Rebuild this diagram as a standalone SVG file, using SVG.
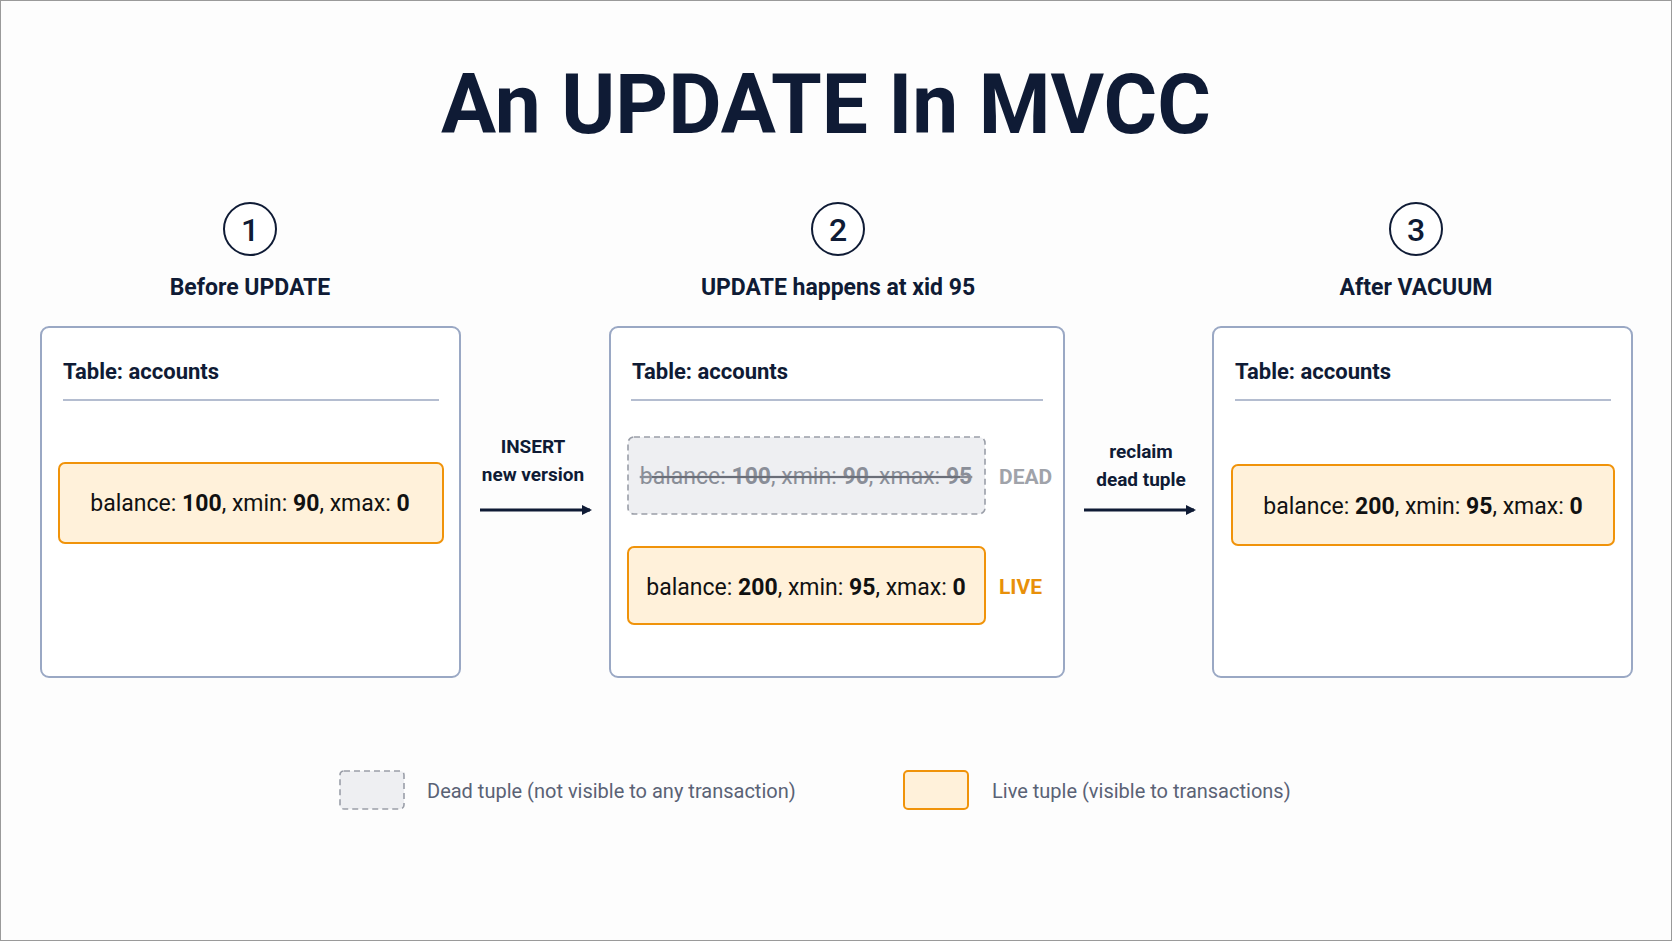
<svg xmlns="http://www.w3.org/2000/svg" width="1672" height="941" viewBox="0 0 1672 941">
<style>
text{font-family:Roboto,"Liberation Sans",sans-serif;fill:#0f1b35}
.title{font-size:84px;font-weight:700}
.num{font-size:32px;font-weight:500}
.sub{font-size:23px;font-weight:700}
.hdr{font-size:22px;font-weight:700}
.panel{fill:#fff;stroke:#9aa8c4;stroke-width:2}
.div{stroke:#b4bdd0;stroke-width:2}
.live{fill:#fff1da;stroke:#f0930a;stroke-width:2}
.dead{fill:#eeeff2;stroke:#9a9ea8;stroke-width:1.6;stroke-dasharray:6 4}
.tup{font-size:23px;fill:#111}
.tup tspan.b{font-weight:700}
.dt{font-size:23px;fill:#8a8e98}
.lab{font-size:19px;font-weight:700}
.leg{font-size:20px;fill:#5a6275}
.conn{stroke:#0f1b35;stroke-width:3;fill:none}
</style>
<defs><marker id="ah" markerWidth="10" markerHeight="10" refX="8" refY="5" orient="auto" markerUnits="userSpaceOnUse"><path d="M0,0 L10,5 L0,10 z" fill="#0f1b35"/></marker></defs>
<rect x="0" y="0" width="1672" height="941" fill="#fdfdfd" stroke="#9a9a9a" stroke-width="2"/>
<text class="title" x="826" y="133" text-anchor="middle" textLength="770" lengthAdjust="spacingAndGlyphs">An UPDATE In MVCC</text>
<g id="step1">
<circle cx="250" cy="229" r="26" fill="#fff" stroke="#0f1b35" stroke-width="2"/>
<text class="num" x="250" y="241" text-anchor="middle">1</text>
<text class="sub" x="250" y="295" text-anchor="middle">Before UPDATE</text>
<rect class="panel" x="41" y="327" width="419" height="350" rx="8"/>
<text class="hdr" x="63" y="379">Table: accounts</text>
<line class="div" x1="63" y1="400" x2="439" y2="400"/>
<rect class="live" x="59" y="463" width="384" height="80" rx="6"/>
<text class="tup" x="250" y="511" text-anchor="middle">balance: <tspan class="b">100</tspan>,  xmin: <tspan class="b">90</tspan>,  xmax: <tspan class="b">0</tspan></text>
</g>
<g id="step2">
<circle cx="838" cy="229" r="26" fill="#fff" stroke="#0f1b35" stroke-width="2"/>
<text class="num" x="838" y="241" text-anchor="middle">2</text>
<text class="sub" x="838" y="295" text-anchor="middle">UPDATE happens at xid 95</text>
<rect class="panel" x="610" y="327" width="454" height="350" rx="8"/>
<text class="hdr" x="632" y="379">Table: accounts</text>
<line class="div" x1="631" y1="400" x2="1043" y2="400"/>
<rect class="dead" x="628" y="437" width="357" height="77" rx="6"/>
<text class="dt" x="806" y="484" text-anchor="middle" text-decoration="line-through">balance: <tspan font-weight="700">100</tspan>, xmin: <tspan font-weight="700">90</tspan>, xmax: <tspan font-weight="700">95</tspan></text>
<line x1="652" y1="477" x2="960" y2="477" stroke="#6a6e78" stroke-width="2"/>
<text x="999" y="484" font-size="21" font-weight="700" style="fill:#a0a3aa">DEAD</text>
<rect class="live" x="628" y="547" width="357" height="77" rx="6"/>
<text class="tup" x="806" y="595" text-anchor="middle">balance: <tspan class="b">200</tspan>, xmin: <tspan class="b">95</tspan>, xmax: <tspan class="b">0</tspan></text>
<text x="999" y="594" font-size="21" font-weight="700" style="fill:#e8900a">LIVE</text>
</g>
<g id="step3">
<circle cx="1416" cy="229" r="26" fill="#fff" stroke="#0f1b35" stroke-width="2"/>
<text class="num" x="1416" y="241" text-anchor="middle">3</text>
<text class="sub" x="1416" y="295" text-anchor="middle">After VACUUM</text>
<rect class="panel" x="1213" y="327" width="419" height="350" rx="8"/>
<text class="hdr" x="1235" y="379">Table: accounts</text>
<line class="div" x1="1235" y1="400" x2="1611" y2="400"/>
<rect class="live" x="1232" y="465" width="382" height="80" rx="6"/>
<text class="tup" x="1423" y="514" text-anchor="middle">balance: <tspan class="b">200</tspan>,  xmin: <tspan class="b">95</tspan>,  xmax: <tspan class="b">0</tspan></text>
</g>
<g id="connectors">
<line class="conn" x1="480" y1="510" x2="590" y2="510" marker-end="url(#ah)"/>
<text class="lab" x="533" y="453" text-anchor="middle">INSERT</text>
<text class="lab" x="533" y="481" text-anchor="middle">new version</text>
<line class="conn" x1="1084" y1="510" x2="1194" y2="510" marker-end="url(#ah)"/>
<text class="lab" x="1141" y="458" text-anchor="middle">reclaim</text>
<text class="lab" x="1141" y="486" text-anchor="middle">dead tuple</text>
</g>
<g id="legend">
<rect class="dead" x="340" y="771" width="64" height="38" rx="4"/>
<text class="leg" x="427" y="798">Dead tuple (not visible to any transaction)</text>
<rect class="live" x="904" y="771" width="64" height="38" rx="4"/>
<text class="leg" x="992" y="798">Live tuple (visible to transactions)</text>
</g>
</svg>
